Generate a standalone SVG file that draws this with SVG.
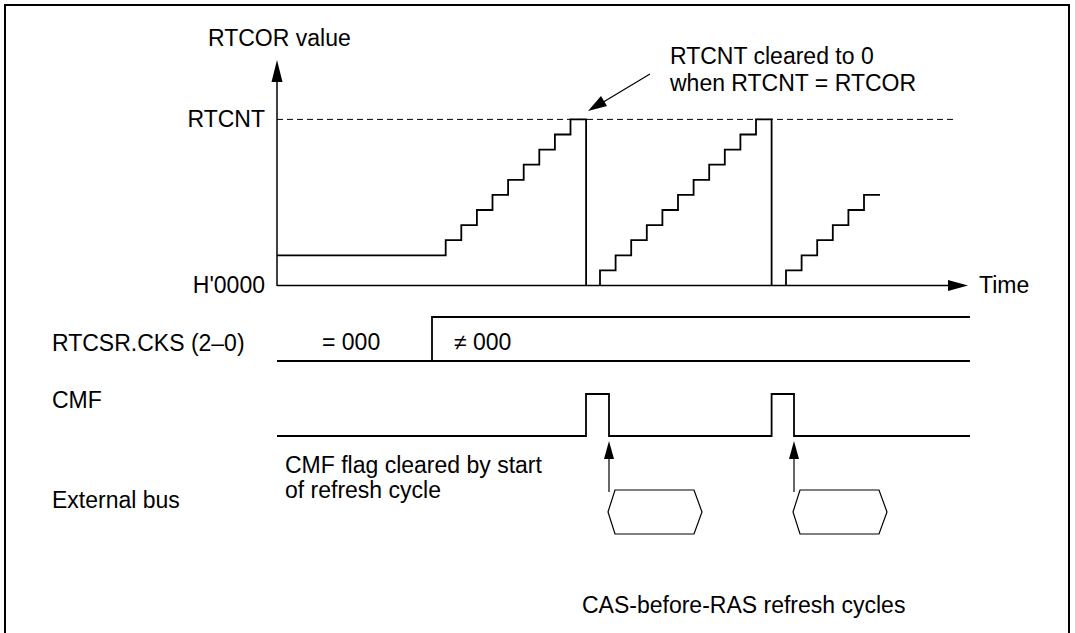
<svg xmlns="http://www.w3.org/2000/svg" width="1075" height="633" viewBox="0 0 1075 633">
<style>
text{font-family:"Liberation Sans",Arial,sans-serif;font-size:23px;fill:#000}
.w{fill:none;stroke:#000;stroke-width:1.8}
.ax{fill:none;stroke:#000;stroke-width:1.5}
.dash{fill:none;stroke:#000;stroke-width:1;stroke-dasharray:6 4}
.thin{fill:none;stroke:#000;stroke-width:1.2}
</style>
<rect x="5" y="5" width="1064" height="650" fill="#fff" stroke="#000" stroke-width="2"/>
<g id="labels">
<text x="208" y="46">RTCOR value</text>
<text x="265" y="127" text-anchor="end">RTCNT</text>
<text x="265" y="293" text-anchor="end">H'0000</text>
<text x="979" y="293">Time</text>
<text x="670" y="64">RTCNT cleared to 0</text>
<text x="670" y="91">when RTCNT = RTCOR</text>
<text x="52" y="351">RTCSR.CKS (2–0)</text>
<text x="52" y="408">CMF</text>
<text x="52" y="508">External bus</text>
<text x="285" y="473">CMF flag cleared by start</text>
<text x="285" y="498">of refresh cycle</text>
<text x="582" y="613">CAS-before-RAS refresh cycles</text>
</g>
<g id="axes">
<path class="ax" d="M277,286 V78"/>
<polygon points="277,60 271.5,82 282.5,82"/>
<path class="ax" d="M277,285.5 H950"/>
<polygon points="968,285.5 948,280 948,291"/>
<path class="dash" d="M277,119.4 H957"/>
</g>
<g id="rtcnt">
<path class="w" d="M277,255.3 H445.7 V240.2 H461.3 V225.1 H476.9 V210 H492.5 V194.9 H508.1 V179.8 H523.7 V164.7 H539.3 V149.6 H554.9 V134.5 H570.5 V119.4 H586.1 V285.5"/>
<path class="w" d="M600,285.5 V270.4 H615.6 V255.3 H631.2 V240.2 H646.8 V225.1 H662.4 V210 H678 V194.9 H693.6 V179.8 H709.2 V164.7 H724.8 V149.6 H740.4 V134.5 H756 V119.4 H771.6 V285.5"/>
<path class="w" d="M786,285.5 V270.4 H801.6 V255.3 H817.2 V240.2 H832.8 V225.1 H848.4 V210 H864 V194.9 H880"/>
</g>
<g id="rtcsr">
<path class="w" d="M277,361 H970 M432,361 V317 H970"/>
<text x="322" y="350">= 000</text>
<text x="454" y="350">≠ 000</text>
</g>
<g id="cmf">
<path class="w" d="M277,436 H586 V394 H609 V436 H771.6 V394 H794 V436 H970"/>
</g>
<g id="bus1">
<polygon class="thin" points="608,512 615,490 694,490 702,512 694,534 615,534"/>
</g>
<g id="bus2">
<polygon class="thin" points="793,512 800,490 879,490 887,512 879,534 800,534"/>
</g>
<g id="connectors">
<path class="thin" d="M650,74 L600,104"/>
<polygon points="588,111 601,96 607,106"/>
<path class="thin" d="M609,492 V458"/>
<polygon points="609,441 604,459 614,459"/>
<path class="thin" d="M794,492 V458"/>
<polygon points="794,441 789,459 799,459"/>
</g>
</svg>
